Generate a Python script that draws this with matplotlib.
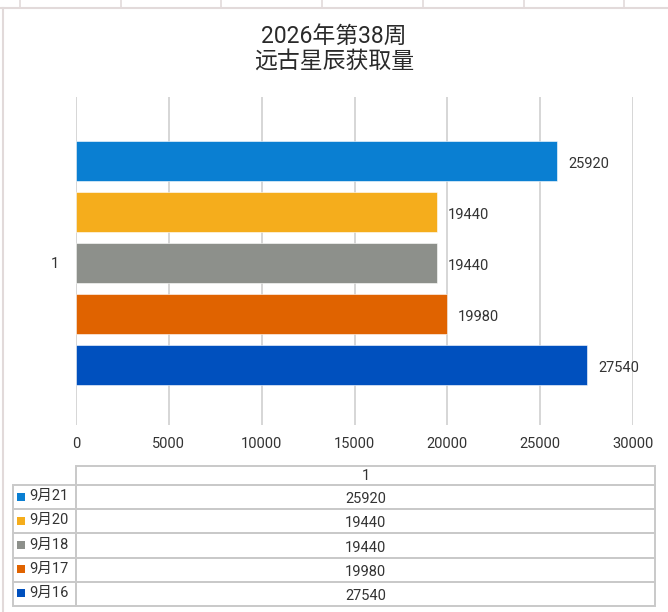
import matplotlib
matplotlib.use("Agg")
import matplotlib.pyplot as plt
from matplotlib.patches import Rectangle

plt.rcParams['font.family'] = ['Roboto', 'Noto Sans CJK SC', 'DejaVu Sans']

# data
category = "1"
dates = ["9月21", "9月20", "9月18", "9月17", "9月16"]
values = [25920, 19440, 19440, 19980, 27540]
colors = ["#0a7fd2", "#f5ad1c", "#8d908b", "#e06300", "#0050be"]
xticks = [0, 5000, 10000, 15000, 20000, 25000, 30000]
title = "2026年第38周\n远古星辰获取量"

W, H = 668, 612
fig = plt.figure(figsize=(W / 100, H / 100), dpi=100)

# overlay in pixel coordinates for frame and table
bg = fig.add_axes([0, 0, 1, 1])
bg.set_xlim(0, W)
bg.set_ylim(H, 0)
bg.axis("off")
edge = "#e2dada"
bg.plot([0, W], [7.5, 7.5], color=edge, lw=1.5)
bg.plot([2.5, 2.5], [7.5, H], color=edge, lw=1.5)
for xv in [20, 121, 221, 322, 423, 524, 624]:
    bg.plot([xv, xv], [0, 7.5], color=edge, lw=1.2)

fig.text(0.5, 1 - 49 / H, title, ha="center", va="center", fontsize=16.5,
         color="#2a2a2a", linespacing=1.12)

# chart
ax = fig.add_axes([76 / W, 1 - 425 / H, (633 - 76) / W, (425 - 97) / H])
n = len(values)
step = 1.0
offsets = [(i - (n - 1) / 2) * step for i in range(n)]
ax.barh(offsets, values, height=0.78, color=colors, edgecolor="white",
        linewidth=0.4, zorder=3)
for off, v in zip(offsets, values):
    ax.annotate(str(v), (v, off), xytext=(8, -2), textcoords="offset points",
                ha="left", va="center", fontsize=10.5, color="#333333", zorder=4)
ax.set_ylim(3.18, -3.255)
ax.set_yticks([0])
ax.set_yticklabels([category])
ax.set_xlim(xticks[0], xticks[-1])
ax.set_xticks(xticks)
ax.set_xticklabels([str(t) for t in xticks])
ax.tick_params(axis="both", length=0, labelsize=10.5, labelcolor="#333333")
ax.tick_params(axis="x", pad=9)
ax.tick_params(axis="y", pad=12)
ax.grid(axis="x", color="#cfcfcf", lw=1.2, zorder=0)
for s in ax.spines.values():
    s.set_visible(False)

# data table
tl, tc, tr = 13, 76, 655
header_top, header_bot = 466, 485
row_h = 24.2
line = "#c9c9c9"
bg.add_patch(Rectangle((tc, header_top), tr - tc, header_bot - header_top,
                       fill=False, ec=line, lw=1.4))
bg.text((tc + tr) / 2, (header_top + header_bot) / 2 + 1, category,
        ha="center", va="center", fontsize=10.5, color="#333333")
for i, (d, v, c) in enumerate(zip(dates, values, colors)):
    y0 = header_bot + i * row_h
    bg.add_patch(Rectangle((tl, y0), tc - tl, row_h, fill=False, ec=line, lw=1.4))
    bg.add_patch(Rectangle((tc, y0), tr - tc, row_h, fill=False, ec=line, lw=1.4))
    bg.add_patch(Rectangle((17, y0 + row_h / 2 - 4.5), 8, 8, color=c, lw=0))
    bg.text(29, y0 + row_h / 2 - 1, d, ha="left", va="center", fontsize=10.5,
            color="#333333")
    bg.text((tc + tr) / 2, y0 + row_h / 2 + 2, str(v), ha="center", va="center",
            fontsize=10.5, color="#333333")

fig.savefig("out.png", dpi=100)
